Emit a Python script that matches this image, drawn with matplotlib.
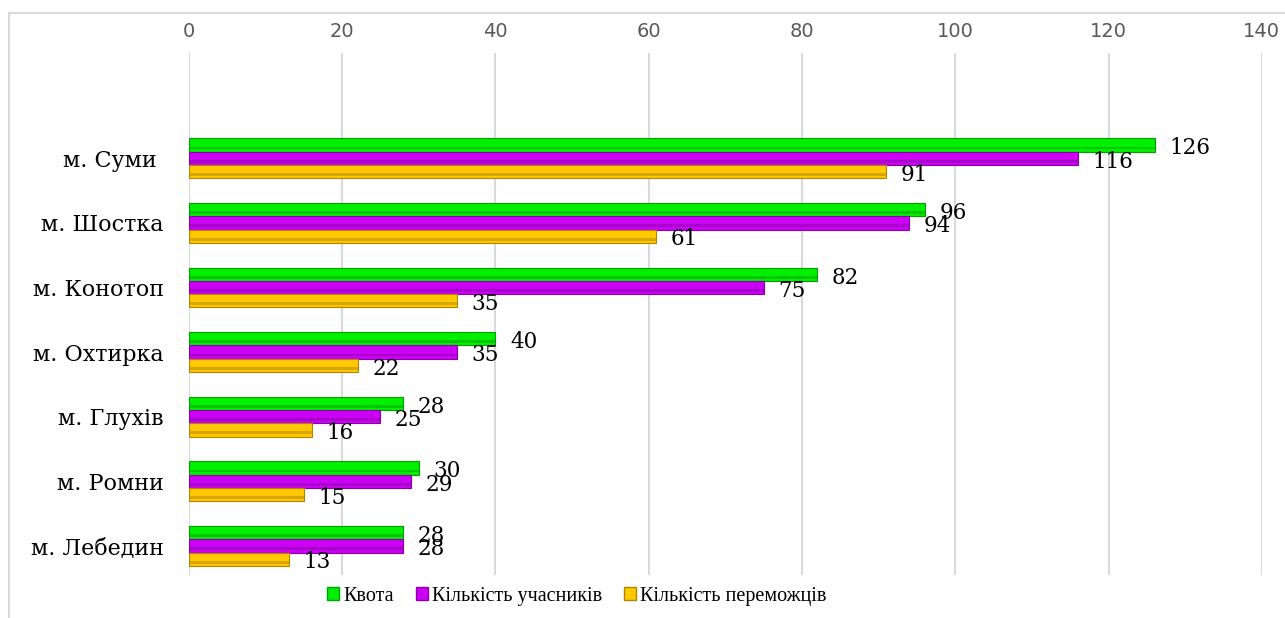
import matplotlib

matplotlib.use("Agg")
import matplotlib.pyplot as plt
import numpy as np
from matplotlib.lines import Line2D
from matplotlib.patches import Patch

cities = ["м. Суми ", "м. Шостка", "м. Конотоп", "м. Охтирка", "м. Глухів", "м. Ромни", "м. Лебедин"]
quota = [126, 96, 82, 40, 28, 30, 28]
participants = [116, 94, 75, 35, 25, 29, 28]
winners = [91, 61, 35, 22, 16, 15, 13]
series_names = ["Квота", "Кількість учасників", "Кількість переможців"]
x_ticks = [0, 20, 40, 60, 80, 100, 120, 140]

# face colour, darker shade for the bevel band
COLORS = [("#00f000", "#00a000"), ("#cc00f5", "#8a00a8"), ("#ffc800", "#b08600")]
SERIF = "DejaVu Serif"

fig = plt.figure(figsize=(12.85, 6.18), dpi=100)
ax = fig.add_axes([0.147, 0.0696, 0.835, 0.8446])

y = np.arange(len(cities))
h = 0.205
offsets = [-h, 0.0, h]
for vals, off, (face, dark) in zip([quota, participants, winners], offsets, COLORS):
    ax.barh(y + off, vals, height=h, color=face, edgecolor=dark, linewidth=0.8, zorder=3)
    # darker band near the lower edge to fake the bevel look
    ax.barh(y + off + h * 0.22, vals, height=h * 0.22, color=dark, alpha=0.5, linewidth=0, zorder=4)
    for yi, v in zip(y + off, vals):
        ax.text(v + 1.9, yi + 0.05, str(v), va="center", ha="left", fontsize=15.5,
                family=SERIF, color="black", zorder=5)

ax.set_xlim(0, 140)
ax.set_ylim(6.45, -1.63)
ax.set_xticks(x_ticks)
ax.xaxis.tick_top()
ax.tick_params(axis="x", length=0, pad=9, labelsize=14, labelcolor="#595959")
ax.set_yticks(y)
ax.set_yticklabels(cities, family=SERIF, fontsize=16)
ax.tick_params(axis="y", length=0, pad=18)
ax.grid(axis="x", color="#d9d9d9", linewidth=1.5, zorder=0)
for s in ax.spines.values():
    s.set_visible(False)

# chart frame
fig.add_artist(Line2D([0.007, 1.0], [0.979, 0.979], color="#d9d9d9", linewidth=1.5))
fig.add_artist(Line2D([0.007, 0.007], [0.0, 0.979], color="#d9d9d9", linewidth=1.5))

handles = [Patch(facecolor=f, edgecolor=d) for f, d in COLORS]
fig.legend(handles, series_names, loc="center", bbox_to_anchor=(0.449, 0.035), ncol=3,
           frameon=False, prop={"family": "Liberation Serif", "size": 14.5}, handlelength=0.6,
           handleheight=0.6, handletextpad=0.2, columnspacing=1.1)

fig.savefig("out.png", dpi=100)
